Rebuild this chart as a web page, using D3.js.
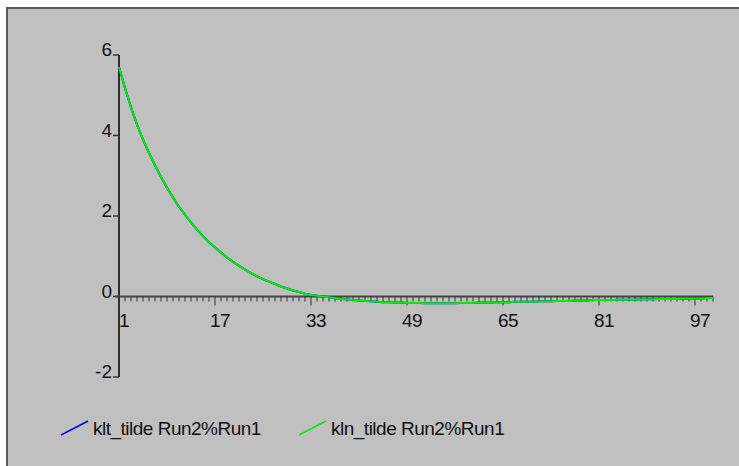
<!DOCTYPE html>
<html>
<head>
<meta charset="utf-8">
<script src="https://cdn.jsdelivr.net/npm/d3@7"></script>
<style>
  body { margin: 0; background: #ffffff; }
  svg { display: block; }
  text { font-family: "Liberation Sans", Arial, sans-serif; fill: #111; }
</style>
</head>
<body>
<div id="chart"></div>
<script>
// series values, one per period 1..100
var periods = d3.range(1, 101);
var kltValues = [5.70, 5.18, 4.70, 4.27, 3.90, 3.57, 3.26, 2.97, 2.70, 2.46,
  2.23, 2.03, 1.84, 1.66, 1.50, 1.35, 1.22, 1.09, 0.97, 0.86,
  0.76, 0.67, 0.58, 0.50, 0.43, 0.37, 0.31, 0.25, 0.20, 0.15,
  0.11, 0.07, 0.04, 0.02, 0.00, -0.02, -0.04, -0.06, -0.07, -0.09,
  -0.10, -0.11, -0.12, -0.13, -0.14, -0.14, -0.15, -0.15, -0.16, -0.16,
  -0.16, -0.17, -0.17, -0.17, -0.17, -0.17, -0.17, -0.16, -0.16, -0.16,
  -0.15, -0.15, -0.15, -0.14, -0.14, -0.14, -0.13, -0.13, -0.13, -0.13,
  -0.12, -0.12, -0.12, -0.11, -0.11, -0.11, -0.10, -0.10, -0.10, -0.09,
  -0.09, -0.09, -0.09, -0.08, -0.08, -0.08, -0.08, -0.07, -0.07, -0.07,
  -0.06, -0.06, -0.06, -0.06, -0.05, -0.05, -0.05, -0.05, -0.04, -0.04];
var klnValues = [5.70, 5.18, 4.70, 4.27, 3.90, 3.57, 3.26, 2.97, 2.70, 2.46,
  2.23, 2.03, 1.84, 1.66, 1.50, 1.35, 1.22, 1.09, 0.97, 0.86,
  0.76, 0.67, 0.58, 0.50, 0.43, 0.37, 0.31, 0.25, 0.20, 0.15,
  0.11, 0.07, 0.04, 0.02, 0.00, -0.02, -0.04, -0.06, -0.07, -0.09,
  -0.10, -0.11, -0.12, -0.13, -0.14, -0.14, -0.15, -0.15, -0.16, -0.16,
  -0.16, -0.17, -0.17, -0.17, -0.17, -0.17, -0.17, -0.16, -0.16, -0.16,
  -0.15, -0.15, -0.15, -0.14, -0.14, -0.14, -0.13, -0.13, -0.13, -0.13,
  -0.12, -0.12, -0.12, -0.11, -0.11, -0.11, -0.10, -0.10, -0.10, -0.09,
  -0.09, -0.09, -0.09, -0.08, -0.08, -0.08, -0.08, -0.07, -0.07, -0.07,
  -0.06, -0.06, -0.06, -0.06, -0.05, -0.05, -0.05, -0.05, -0.04, -0.04];
var xTickLabels = [1, 17, 33, 49, 65, 81, 97];
var yTickLabels = [-2, 0, 2, 4, 6];
var seriesNames = ["klt_tilde Run2%Run1", "kln_tilde Run2%Run1"];
var seriesColors = ["#0000ff", "#00f000"];

const width = 739, height = 466;

const svg = d3.select("#chart").append("svg")
  .attr("width", width)
  .attr("height", height);

// grey panel with dark frame
svg.append("rect")
  .attr("x", 7).attr("y", 8)
  .attr("width", 740).attr("height", 470)
  .attr("fill", "#c0c0c0")
  .attr("stroke", "#5a5a5a")
  .attr("stroke-width", 2);

const x = d3.scaleLinear().domain([1, 100]).range([119, 713]);
const y = d3.scaleLinear().domain([-2, 6]).range([377, 55]);

// y axis
const yAxis = svg.append("g");
yAxis.append("line")
  .attr("x1", x(1)).attr("x2", x(1))
  .attr("y1", y(6)).attr("y2", y(-2))
  .attr("stroke", "#000").attr("stroke-width", 1.5);
yAxis.selectAll(".ytick")
  .data(yTickLabels)
  .join("line")
  .attr("x1", x(1) - 6).attr("x2", x(1))
  .attr("y1", d => y(d)).attr("y2", d => y(d))
  .attr("stroke", "#333").attr("stroke-width", 1.5);
yAxis.selectAll(".ylab")
  .data(yTickLabels)
  .join("text")
  .attr("x", x(1) - 7)
  .attr("y", d => y(d) + 1)
  .attr("text-anchor", "end")
  .style("font-size", "19px")
  .text(d => d);

// x axis along zero
const xAxis = svg.append("g");
xAxis.append("line")
  .attr("x1", x(1) - 4).attr("x2", x(100))
  .attr("y1", y(0)).attr("y2", y(0))
  .attr("stroke", "#444").attr("stroke-width", 2);
xAxis.selectAll(".xtick")
  .data(periods)
  .join("line")
  .attr("x1", d => x(d)).attr("x2", d => x(d))
  .attr("y1", y(0))
  .attr("y2", d => xTickLabels.includes(d) ? y(0) + 9 : y(0) + 5)
  .attr("stroke", "#333").attr("stroke-width", 1);
xAxis.selectAll(".xlab")
  .data(xTickLabels)
  .join("text")
  .attr("x", d => x(d) + 5)
  .attr("y", y(0) + 30)
  .attr("text-anchor", "middle")
  .style("font-size", "19px")
  .style("letter-spacing", "-0.5px")
  .text(d => d);

// lines
const line = d3.line()
  .x((d, i) => x(periods[i]))
  .y(d => y(d));

[kltValues, klnValues].forEach((vals, i) => {
  svg.append("path")
    .datum(vals)
    .attr("d", line)
    .attr("fill", "none")
    .attr("stroke", seriesColors[i])
    .attr("stroke-width", 2);
});

// legend
const legendX = [61, 299];
seriesNames.forEach((name, i) => {
  svg.append("line")
    .attr("x1", legendX[i]).attr("y1", 435)
    .attr("x2", legendX[i] + 27).attr("y2", 421)
    .attr("stroke", seriesColors[i]).attr("stroke-width", 1.5);
  svg.append("text")
    .attr("x", legendX[i] + 32)
    .attr("y", 435)
    .style("font-size", "19px")
    .style("letter-spacing", "-0.5px")
    .text(name);
});
</script>
</body>
</html>
